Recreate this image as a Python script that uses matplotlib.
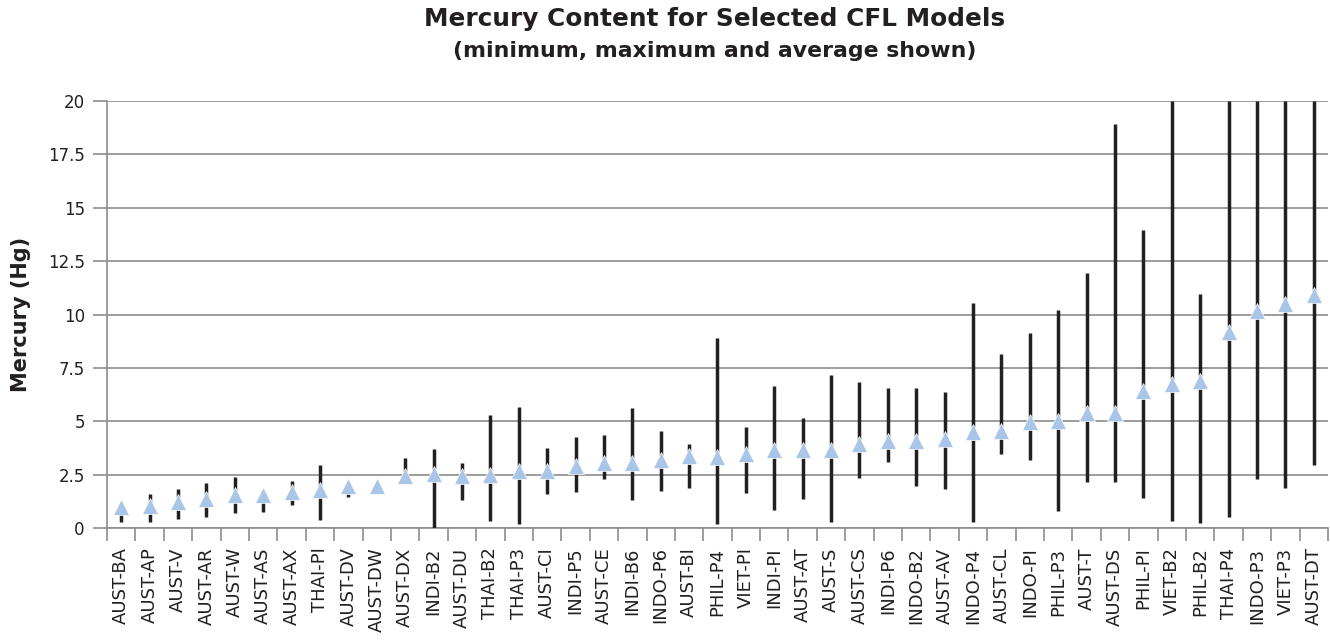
import numpy as np
import matplotlib
matplotlib.use("Agg")
import matplotlib.pyplot as plt

plt.rcParams['font.family'] = ['DejaVu Sans']

models = ["AUST-BA", "AUST-AP", "AUST-V", "AUST-AR", "AUST-W", "AUST-AS", "AUST-AX",
          "THAI-PI", "AUST-DV", "AUST-DW", "AUST-DX", "INDI-B2", "AUST-DU", "THAI-B2",
          "THAI-P3", "AUST-CI", "INDI-P5", "AUST-CE", "INDI-B6", "INDO-P6", "AUST-BI",
          "PHIL-P4", "VIET-PI", "INDI-PI", "AUST-AT", "AUST-S", "AUST-CS", "INDI-P6",
          "INDO-B2", "AUST-AV", "INDO-P4", "AUST-CL", "INDO-PI", "PHIL-P3", "AUST-T",
          "AUST-DS", "PHIL-PI", "VIET-B2", "PHIL-B2", "THAI-P4", "INDO-P3", "VIET-P3",
          "AUST-DT"]

hg_min = [0.30, 0.30, 0.44, 0.51, 0.72, 0.77, 1.08, 0.36, 1.47, 1.90, 2.30, 0.00,
          1.31, 0.31, 0.19, 1.58, 1.67, 2.30, 1.31, 1.72, 1.89, 0.19, 1.63, 0.84,
          1.38, 0.27, 2.34, 3.08, 1.97, 1.84, 0.30, 3.45, 3.18, 0.78, 2.14, 2.14,
          1.39, 0.34, 0.22, 0.50, 2.29, 1.86, 2.93]

hg_max = [1.00, 1.58, 1.83, 2.11, 2.37, 1.60, 2.19, 2.95, 2.00, 2.00, 3.26, 3.70,
          3.03, 5.31, 5.66, 3.77, 4.27, 4.36, 5.64, 4.56, 3.95, 8.88, 4.75, 6.63,
          5.17, 7.17, 6.86, 6.55, 6.58, 6.35, 10.55, 8.14, 9.13, 10.23, 11.95, 18.94,
          13.95, 20.0, 10.94, 20.0, 20.0, 20.0, 20.0]

hg_avg = [0.97, 1.05, 1.20, 1.34, 1.54, 1.53, 1.70, 1.80, 1.98, 1.95, 2.45, 2.51,
          2.45, 2.47, 2.66, 2.66, 2.90, 3.05, 3.06, 3.17, 3.36, 3.31, 3.48, 3.63,
          3.66, 3.66, 3.92, 4.07, 4.09, 4.17, 4.51, 4.54, 4.95, 5.02, 5.40, 5.40,
          6.43, 6.74, 6.90, 9.16, 10.16, 10.51, 10.92]

yticks = [0, 2.5, 5, 7.5, 10, 12.5, 15, 17.5, 20]
ytick_labels = ["0", "2.5", "5", "7.5", "10", "12.5", "15", "17.5", "20"]

grey = "#8c8c8c"

fig = plt.figure(figsize=(13.3, 6.41), dpi=100)
ax = fig.add_axes([107 / 1330, 113 / 641, 1221 / 1330, 427 / 641])

x = np.arange(len(models))
ax.vlines(x, hg_min, hg_max, color="#231f20", linewidth=2.5, zorder=3)
ax.plot(x, hg_avg, linestyle="none", marker="^", markersize=12,
        color="#a9c6e8", markeredgecolor="white", markeredgewidth=0.5, zorder=4)

ax.set_xlim(-0.5, len(models) - 0.5)
ax.set_ylim(0, 20)
ax.set_yticks(yticks)
ax.set_yticklabels(ytick_labels, fontsize=12, color="#231f20")
ax.yaxis.grid(True, color=grey, linewidth=1.2, zorder=0)
ax.tick_params(axis="y", length=10, color=grey, width=1.2, pad=6)

ax.set_xticks(x)
ax.set_xticklabels(models, rotation=90, fontsize=13, color="#231f20")
ax.set_xticks(np.arange(len(models) + 1) - 0.5, minor=True)
ax.tick_params(axis="x", which="major", length=0, pad=14)
ax.tick_params(axis="x", which="minor", length=9, color=grey, width=1.2)

for s in ["top", "right"]:
    ax.spines[s].set_visible(False)
for s in ["left", "bottom"]:
    ax.spines[s].set_color(grey)
    ax.spines[s].set_linewidth(1.2)

ax.set_ylabel("Mercury (Hg)", fontsize=15, fontweight="bold", labelpad=12,
              color="#231f20")

fig.text(0.5376, 0.970, "Mercury Content for Selected CFL Models",
         ha="center", va="center", fontsize=17.8, fontweight="bold", color="#231f20")
fig.text(0.5376, 0.921, "(minimum, maximum and average shown)",
         ha="center", va="center", fontsize=15.8, fontweight="bold", color="#231f20")

fig.savefig("out.png", dpi=100)
